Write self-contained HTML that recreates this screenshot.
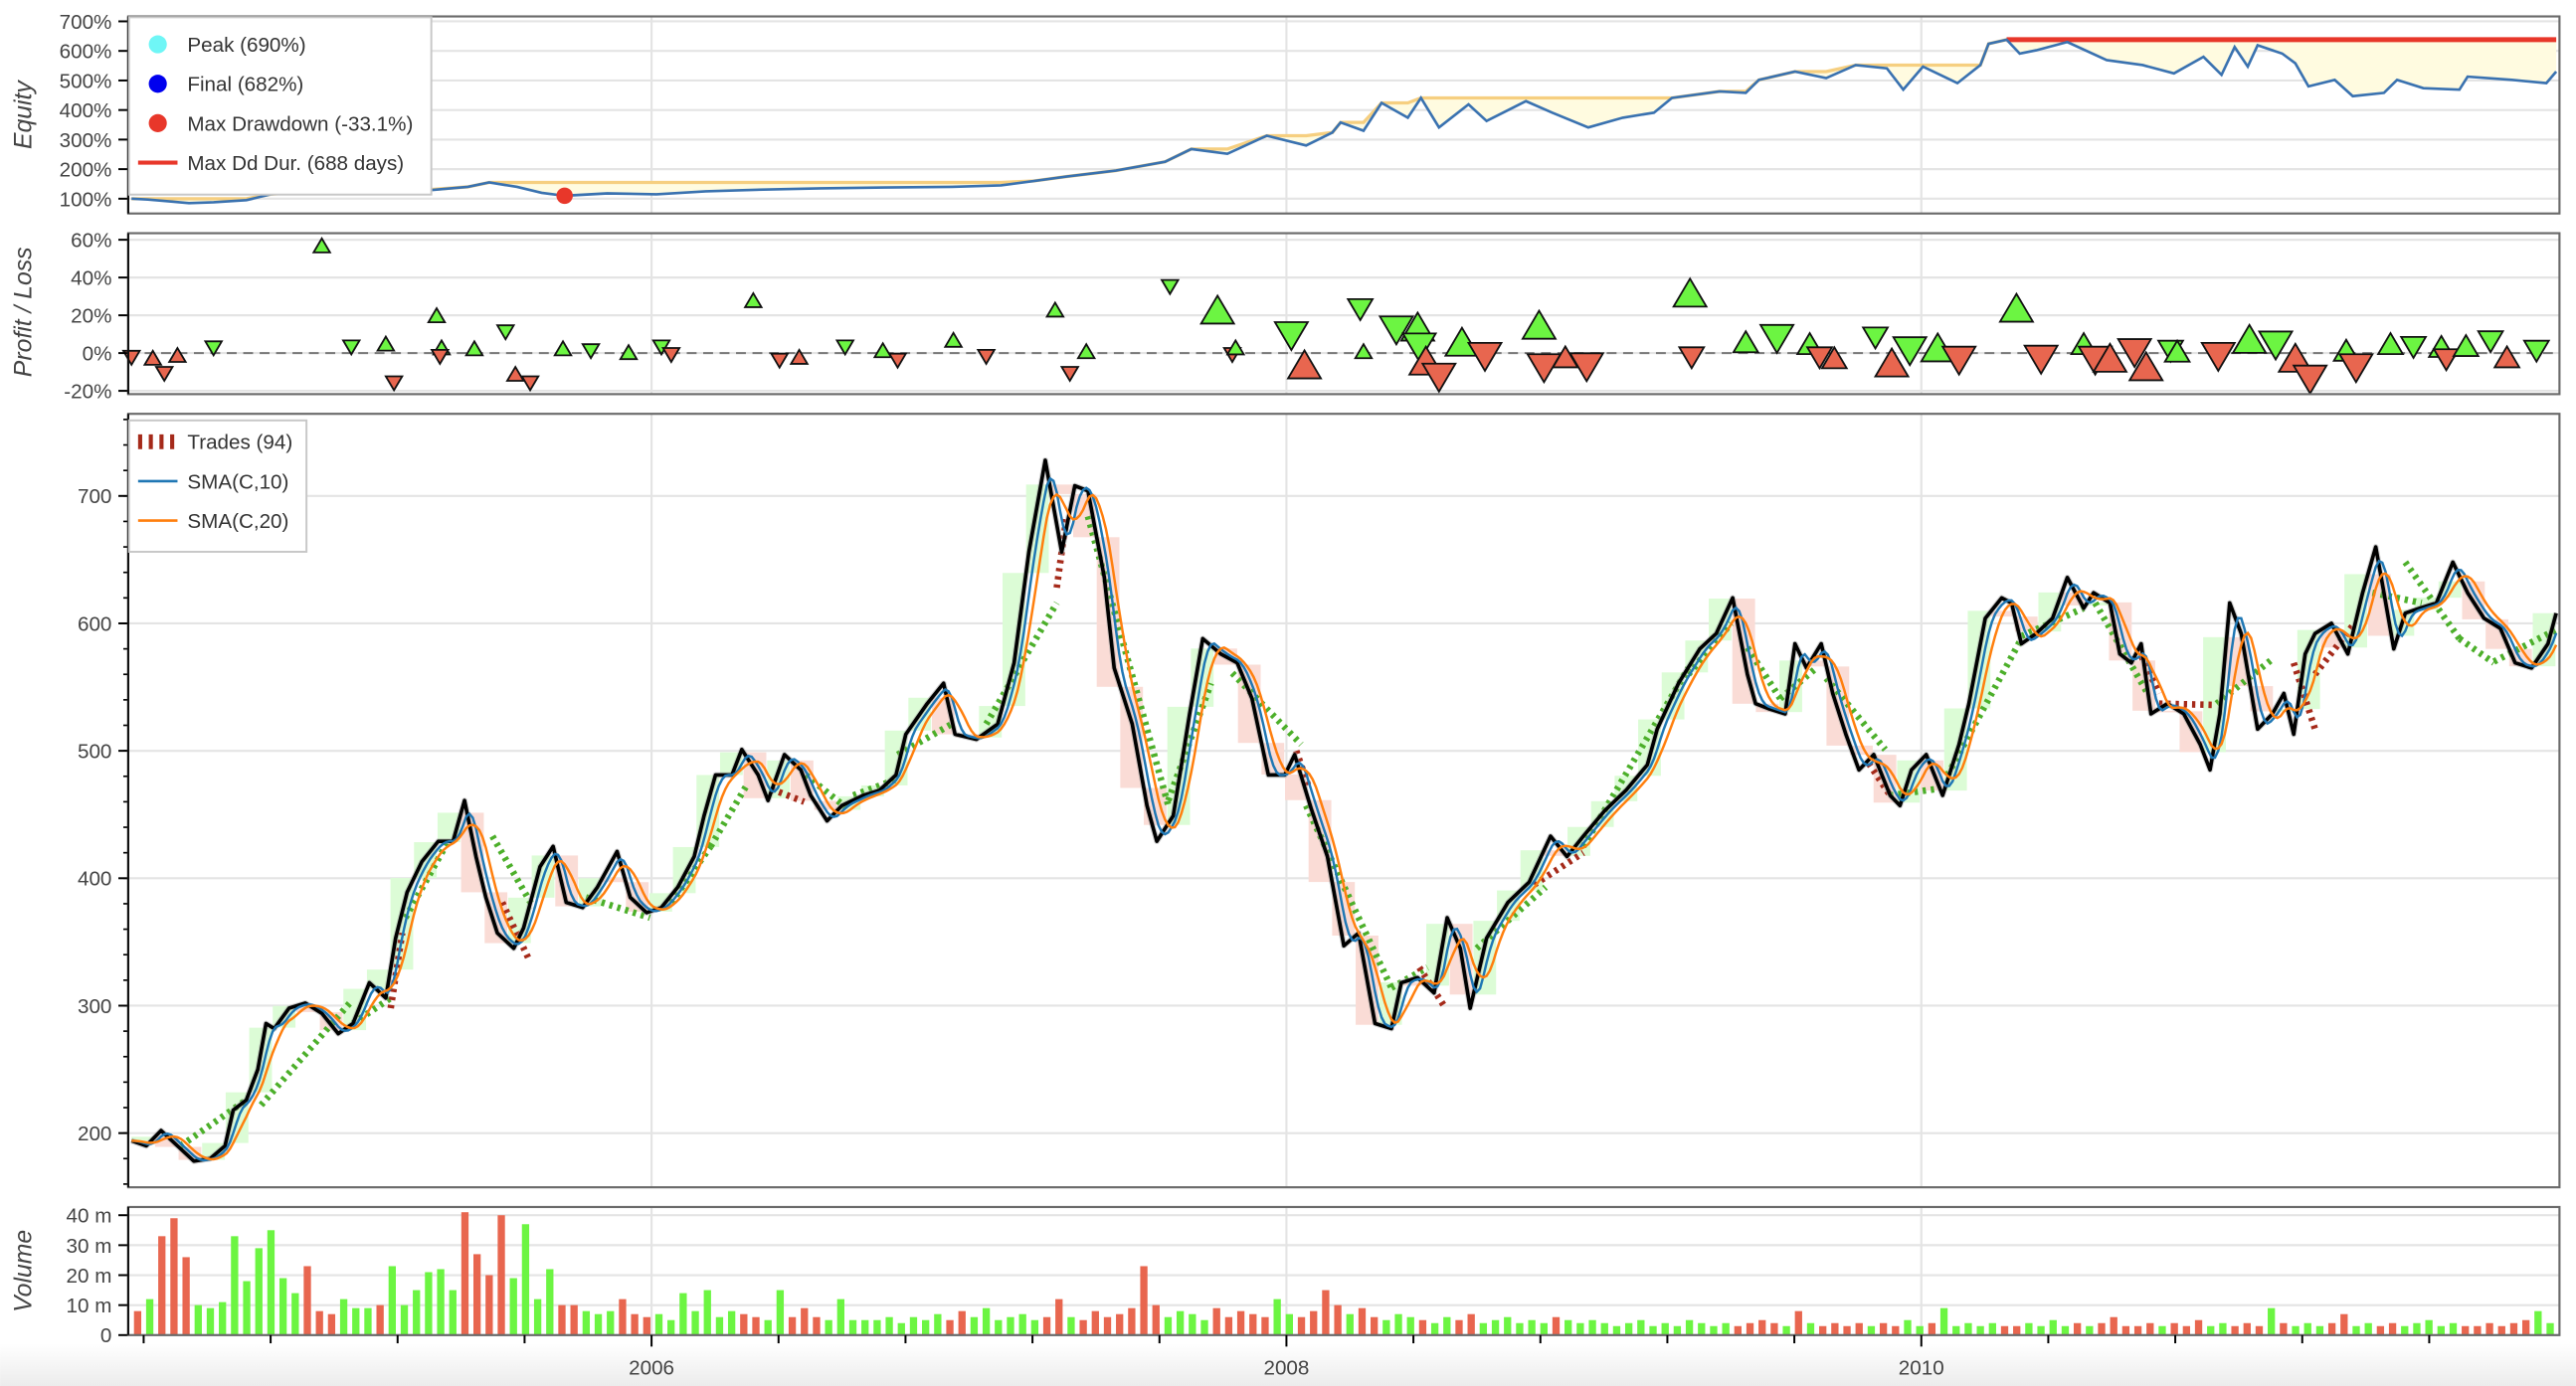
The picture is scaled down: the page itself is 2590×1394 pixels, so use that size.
<!DOCTYPE html>
<html><head><meta charset="utf-8"><style>
html,body{margin:0;padding:0;background:#fff;}
svg{display:block;font-family:"Liberation Sans",sans-serif;}
.tk{font-size:12.5px;fill:#444;}
.ttl{font-size:15px;fill:#444;font-style:italic;}
.lg{font-size:12.5px;fill:#333;}
</style></head><body>
<svg id="chart" width="2590" height="1394" viewBox="0 0 1568 844" xmlns="http://www.w3.org/2000/svg">
<defs><linearGradient id="shade" x1="0" y1="0" x2="0" y2="1"><stop offset="0" stop-color="#fff"/><stop offset="1" stop-color="#ececec"/></linearGradient></defs>
<rect x="0" y="818" width="1568" height="26" fill="url(#shade)"/>
<g id="grid"></g>
<g id="marks"></g>
<g id="axes"></g>
<g id="legends"></g>
</svg>
<script>
// ---- data (time axis in bar-position units 0..1478) ----
const priceT=[0,9,18,28,38,48,57,62,70,77,82,87,96,106,116,126,135,145,155,161,168,177,187,196,203,210,216,223,233,239,249,257,265,275,284,296,304,314,323,333,343,349,356,366,372,382,388,398,408,414,424,433,446,456,466,472,485,495,502,515,528,538,547,557,567,575,583,593,599,610,619,625,635,645,653,664,674,683,693,703,709,719,729,739,748,758,768,774,784,794,802,810,816,826,839,852,865,875,885,898,911,924,930,943,956,966,976,985,990,998,1008,1014,1021,1030,1037,1045,1053,1062,1072,1078,1085,1094,1104,1114,1120,1130,1140,1146,1152,1161,1171,1180,1190,1196,1206,1212,1219,1225,1231,1241,1251,1261,1267,1273,1279,1286,1296,1305,1312,1318,1325,1331,1341,1351,1360,1368,1373,1379,1386,1395,1405,1415,1424,1434,1444,1453,1463,1473,1478];
const priceV=[194,190,202,190,178,180,190,218,226,250,286,282,298,302,294,278,286,318,306,353,389,413,429,429,461,417,385,357,345,361,409,425,381,377,393,421,385,373,377,393,417,449,481,481,501,481,461,497,485,465,445,457,465,469,481,513,537,553,513,509,521,569,656,728,656,708,704,636,565,521,457,429,449,529,588,576,569,541,481,481,497,455,417,347,357,286,282,318,322,310,369,345,298,353,381,397,433,417,433,453,469,489,517,553,580,592,620,560,537,533,529,584,565,584,545,513,485,497,465,457,485,497,465,505,537,604,620,616,584,592,604,636,612,624,616,576,569,584,529,537,529,505,485,529,616,592,517,529,545,513,576,592,600,576,624,660,624,580,608,612,616,648,624,604,596,569,565,584,608];
const eqT=[0,10,25,35,50,70,85,110,150,180,205,218,235,250,264,290,320,350,380,420,460,500,530,550,570,600,630,646,668,692,716,732,737,751,762,778,786,797,815,826,850,866,888,909,928,939,968,984,992,1014,1033,1051,1070,1080,1092,1113,1127,1132,1143,1151,1161,1180,1204,1226,1245,1263,1274,1282,1290,1296,1311,1319,1327,1343,1354,1373,1381,1397,1419,1424,1451,1472,1478];
const eqV=[100,97,90,85,88,95,115,125,130,128,140,155,140,120,110,118,115,125,130,135,138,140,145,160,175,195,225,268,252,313,280,324,358,330,424,374,441,341,419,363,430,391,341,374,391,441,463,458,502,530,508,552,541,469,547,491,552,624,638,591,602,630,569,552,524,580,519,613,547,619,591,558,480,502,447,458,502,474,469,513,502,491,530];
const ddT=264, ddV=110;
const plT=[0,13,20,28,50,116,134,155,160,186,189,188,209,228,234,243,263,280,303,323,329,379,395,407,435,458,467,501,521,563,572,582,633,662,671,673,707,715,749,751,771,784,785,789,797,811,825,858,861,874,887,950,951,984,1003,1023,1029,1038,1063,1073,1084,1101,1114,1149,1164,1190,1197,1206,1221,1228,1243,1247,1272,1291,1307,1319,1328,1350,1356,1377,1391,1408,1411,1423,1438,1448,1466];
const plV=[-2.5,-2.5,-11,-1,2.5,57,3,5,-16,20,3,-2,2.5,11,-11,-16,2.5,1,0.5,3,-1,28,-4,-2,3,1.5,-4,7,-2,23,-11,1,35,23,-1,3,9,-6,23,1,12,14,3,-4,-13,6,-2,15,-8,-2,-7.5,32,-2.5,6,7.5,5,-2.5,-2.5,8,-5,1,3,-4,24,-3.5,5,-4,-2.5,0,-7,1,1,-2,7.5,4,-2.5,-14,1.5,-8,5,3,3.5,-3.5,4,6,-2,1];
const plDir=[-1,1,-1,1,-1,1,-1,1,-1,1,1,-1,1,-1,1,-1,1,-1,1,-1,-1,1,-1,1,-1,1,-1,1,-1,1,-1,1,-1,1,-1,1,-1,1,-1,1,-1,1,-1,1,-1,1,-1,1,-1,1,-1,1,-1,1,-1,1,-1,1,-1,1,-1,1,-1,1,-1,1,-1,1,-1,1,-1,1,-1,1,-1,1,-1,1,-1,1,-1,1,-1,1,-1,1,-1];
const plSize=[1,1,1,1,1,1,1,1,1,1,1,1,1,1,1,1,1,1,1,1,1,1,1,1,1,1,1,1,1,1,1,1,1,2,1,1,2,2,1.5,1,2,2,2,2,2,2,2,2,2,1.5,2,2,1.5,1.5,2,1.5,1.5,1.5,1.5,2,2,2,2,2,2,1.5,2,2,2,2,1.5,1.5,2,2,2,2,2,1.5,2,1.5,1.5,1.5,1.5,1.5,1.5,1.5,1.5];
const trEntryT=[30,79,135,158,167,220,226,277,329,353,390,411,440,467,521,564,583,632,671,710,716,768,785,820,855,885,949,985,1005,1033,1059,1072,1107,1152,1197,1223,1236,1271,1318,1331,1366,1386,1419,1440];
const trEntryP=[190,222,286,298,369,433,381,385,381,425,470,481,465,497,521,628,684,461,561,500,457,314,330,345,395,425,560,581,541,557,490,465,481,590,616,580,537,537,569,560,624,648,588,570];
const trExitT=[70,133,158,165,193,245,242,316,353,375,410,438,467,500,564,570,632,658,713,718,768,790,800,862,885,949,975,1005,1027,1069,1072,1100,1152,1190,1229,1236,1271,1306,1331,1355,1396,1419,1440,1478];
const trExitP=[226,302,306,357,429,377,337,369,425,473,460,453,478,521,616,684,457,553,505,470,314,330,300,393,420,565,600,541,565,501,465,470,588,612,545,545,536,573,517,600,616,588,569,595];
const trDir=[1,1,1,-1,1,-1,1,-1,1,1,1,-1,1,1,1,-1,-1,1,-1,1,-1,1,1,1,-1,1,1,-1,1,-1,1,1,1,1,-1,1,1,1,1,-1,-1,-1,-1,1];
const volM=[8,12,33,39,26,10,9,11,33,18,29,35,19,14,23,8,7,12,9,9,10,23,10,15,21,22,15,41,27,20,40,19,37,12,22,10,10,8,7,8,12,7,6,7,5,14,8,15,6,8,7,6,5,15,6,9,6,5,12,5,5,5,6,4,
6,5,7,5,8,6,9,5,6,7,5,6,12,6,5,8,6,
7,9,23,10,6,8,7,5,9,6,8,7,6,12,7,6,8,15,10,7,
9,6,5,7,6,5,4,6,5,7,4,5,6,4,5,4,6,5,4,5,
4,3,4,5,3,4,3,5,4,3,4,3,4,5,4,3,8,4,3,4,
3,4,3,4,3,5,3,4,9,3,4,3,4,3,3,4,3,5,3,4,
3,4,6,3,3,4,3,4,3,5,3,4,3,4,3,9,4,3,4,3,
4,7,3,4,3,4,3,4,5,3,4,3,3,4,3,4,5,8,4];
const eqTicks=[100,200,300,400,500,600,700];
const plTicks=[-20,0,20,40,60];
const priceTicks=[200,300,400,500,600,700];
const volTicks=[0,10,20,30,40];
const yearTicks=[317,704,1091];
const yearLabels=["2006","2008","2010"];

// ---- scales ----
const X0=78,X1=1558,T0=-2,T1=1480;
const xS=t=>X0+(t-T0)*(X1-X0)/(T1-T0);
const yEq=e=>121-(e-100)*0.18;
const yPL=v=>215-v*1.15;
const yP=p=>690-(p-200)*0.776;
const yV=m=>813-m*1.825;
const PAN={eq:[10,130],pl:[142,240],main:[252,723],vol:[735,813]};
const NS="http://www.w3.org/2000/svg";
function mk(tag,attrs,parent){const e=document.createElementNS(NS,tag);for(const k in attrs)e.setAttribute(k,attrs[k]);parent.appendChild(e);return e;}
const gridG=document.getElementById('grid'),marksG=document.getElementById('marks'),axesG=document.getElementById('axes'),legendsG=document.getElementById('legends');
function priceAt(t){if(t<=priceT[0])return priceV[0];for(let i=1;i<priceT.length;i++){if(t<=priceT[i]){const f=(t-priceT[i-1])/(priceT[i]-priceT[i-1]);return priceV[i-1]+f*(priceV[i]-priceV[i-1]);}}return priceV[priceV.length-1];}

// ---- grid + axes per panel ----
function panel(nm,rng,ticks,yf,fmt,minor){
  const a=rng[0],b=rng[1];
  ticks.forEach(v=>{const y=yf(v);
    const g=mk('line',{x1:X0,x2:X1,y1:y,y2:y,stroke:'#e4e4e4','stroke-width':1.3},gridG);
    
    const tk=mk('line',{x1:X0-6,x2:X0,y1:y,y2:y,stroke:'#000','stroke-width':1.2},axesG);
    
    const tx=mk('text',{x:X0-10,y:y+4.5,'text-anchor':'end',class:'tk'},axesG);tx.textContent=fmt(v);
    
  });
  if(minor){minor.forEach(v=>{const y=yf(v);if(y<a||y>b)return;const m=mk('line',{x1:X0-3,x2:X0,y1:y,y2:y,stroke:'#000','stroke-width':1},axesG);});}
  yearTicks.forEach(t=>{const x=xS(t);const g=mk('line',{x1:x,x2:x,y1:a,y2:b,stroke:'#e4e4e4','stroke-width':1.3},gridG);});
  const r=mk('rect',{x:X0,y:a,width:X1-X0,height:b-a,fill:'none',stroke:'#6a6a6a','stroke-width':1.3},axesG);
  
  const l=mk('line',{x1:X0,x2:X0,y1:a,y2:b,stroke:'#111','stroke-width':1.3},axesG);
  
}
panel('equity',PAN.eq,eqTicks,yEq,v=>v+'%');
panel('pl',PAN.pl,plTicks,yPL,v=>v+'%');
const mnr=[];for(let v=160;v<=760;v+=20)mnr.push(v);
panel('price',PAN.main,priceTicks,yP,v=>String(v),mnr);
panel('volume',PAN.vol,volTicks,yV,v=>v===0?'0':v+' m');

function title(txt,cy,nm){const tx=mk('text',{x:0,y:0,class:'ttl','text-anchor':'middle',transform:'translate(19,'+cy+') rotate(-90)'},axesG);tx.textContent=txt;}
title('Equity',70,'equity-axis-title');title('Profit / Loss',190,'pl-axis-title');title('Volume',774,'volume-axis-title');

// x axis
for(let k=-4;k<=14;k++){const t=317+k*77.4;if(t<0||t>1478)continue;const x=xS(t);const big=k%5===0;
  const m=mk('line',{x1:x,x2:x,y1:813,y2:big?820:818,stroke:'#000','stroke-width':1.2},axesG);}
yearTicks.forEach((t,i)=>{const tx=mk('text',{x:xS(t),y:837,'text-anchor':'middle',class:'tk'},axesG);tx.textContent=yearLabels[i];});

// ---- equity ----
const runMax=[];let mxv=-1e9;eqV.forEach(v=>{mxv=Math.max(mxv,v);runMax.push(mxv);});
let topPath='',botPath='';
eqT.forEach((t,i)=>{topPath+=(i?'L':'M')+xS(t)+','+yEq(runMax[i]);});
for(let i=eqT.length-1;i>=0;i--)botPath+='L'+xS(eqT[i])+','+yEq(eqV[i]);
const ddArea=mk('path',{d:topPath+botPath+'Z',fill:'#fffbe0',stroke:'none'},marksG);
const rml=mk('path',{d:topPath,fill:'none',stroke:'#f6cf80','stroke-width':2},marksG);
const pkI=eqV.indexOf(Math.max(...eqV));
const ddl=mk('line',{x1:xS(eqT[pkI]),x2:xS(eqT[eqT.length-1]),y1:yEq(eqV[pkI]),y2:yEq(eqV[pkI]),stroke:'#e8372a','stroke-width':3},marksG);
const eqp=mk('polyline',{points:eqT.map((t,i)=>xS(t)+','+yEq(eqV[i])).join(' '),fill:'none',stroke:'#3a72b0','stroke-width':1.6},marksG);
const ddm=mk('circle',{cx:xS(ddT),cy:yEq(ddV),r:5,fill:'#e8372a'},marksG);

// ---- P/L ----
const zl=mk('line',{x1:X0,x2:X1,y1:yPL(0),y2:yPL(0),stroke:'#777','stroke-width':1.2,'stroke-dasharray':'6 4'},marksG);
plT.forEach((t,i)=>{const cx=xS(t),cy=yPL(plV[i]),s=5*plSize[i],h=s*1.7;
  const win=plV[i]>0;const up=plDir[i]>0;
  const pts=up?(cx-s)+','+(cy+h/2)+' '+(cx+s)+','+(cy+h/2)+' '+cx+','+(cy-h/2):(cx-s)+','+(cy-h/2)+' '+(cx+s)+','+(cy-h/2)+' '+cx+','+(cy+h/2);
  const p=mk('polygon',{points:pts,fill:win?'#6cf542':'#e8664f',stroke:'#111','stroke-width':1.1},marksG);
  });

// ---- price panel: monthly boxes ----
const BW=14.35;
for(let t=0;t<1478;t+=BW){const o=priceAt(t),c=priceAt(Math.min(t+BW,1478));const lo=Math.min(o,c),hi=Math.max(o,c);
  const r=mk('rect',{x:xS(t),y:yP(hi),width:BW*(X1-X0)/(T1-T0)-0.5,height:Math.max(1,yP(lo)-yP(hi)),fill:c>=o?'#dcfcd6':'#fadcd6',stroke:'none'},marksG);
  }
// trades
trEntryT.forEach((t,i)=>{const win=(trExitP[i]-trEntryP[i])*trDir[i]>0;
  const l=mk('line',{x1:xS(t),y1:yP(trEntryP[i]),x2:xS(trExitT[i]),y2:yP(trExitP[i]),stroke:win?'#4caf2a':'#a52a1a','stroke-width':4,'stroke-dasharray':'2 3'},marksG);
  });
// price
const pp=priceT.map((t,i)=>xS(t)+','+yP(priceV[i])).join(' ');
const wk=mk('polyline',{points:pp,fill:'none',stroke:'#999','stroke-width':3.5,'stroke-linejoin':'round',opacity:0.45},marksG);
const priceLine=mk('polyline',{points:pp,fill:'none',stroke:'#000','stroke-width':2.2,'stroke-linejoin':'round'},marksG);
function sma(w){const out=[];for(let t=0;t<=1478;t+=2){let s=0,n=0;for(let k=t-w;k<=t;k++){s+=priceAt(Math.max(0,k));n++;}out.push(xS(t)+','+yP(s/n));}return out.join(' ');}
const s1=mk('polyline',{points:sma(7),fill:'none',stroke:'#1f77b4','stroke-width':1.5},marksG);
const s2=mk('polyline',{points:sma(14),fill:'none',stroke:'#ff7f0e','stroke-width':1.5},marksG);

// ---- volume ----
const VW=1478/volM.length;
volM.forEach((v,i)=>{const t=i*VW;const up=priceAt(t+VW)>=priceAt(t);
  const r=mk('rect',{x:xS(t)+1.5,y:yV(v),width:VW*(X1-X0)/(T1-T0)*0.6,height:yV(0)-yV(v),fill:up?'#6cf542':'#e8664f'},marksG);
  });

// ---- legends ----
const lg1=mk('g',{},legendsG);
mk('rect',{x:X0+0.5,y:10.5,width:184,height:108,fill:'#fff',stroke:'#c8c8c8','stroke-width':1.2},lg1);
[['Peak (690%)','#6ff6f6','c',27],['Final (682%)','#0000ee','c',51],['Max Drawdown (-33.1%)','#e8372a','c',75],['Max Dd Dur. (688 days)','#e8372a','l',99]].forEach(a=>{
  if(a[2]==='c')mk('circle',{cx:96,cy:a[3],r:5.5,fill:a[1]},lg1);else mk('line',{x1:84,x2:108,y1:a[3],y2:a[3],stroke:a[1],'stroke-width':2.5},lg1);
  const tx=mk('text',{x:114,y:a[3]+4.5,class:'lg'},lg1);tx.textContent=a[0];});
const lg2=mk('g',{},legendsG);
mk('rect',{x:X0+0.5,y:256,width:108,height:80,fill:'#fff',stroke:'#c8c8c8','stroke-width':1.2},lg2);
mk('line',{x1:84,x2:108,y1:269,y2:269,stroke:'#a52a1a','stroke-width':9,'stroke-dasharray':'2.5 4'},lg2);
mk('line',{x1:84,x2:108,y1:293,y2:293,stroke:'#1f77b4','stroke-width':1.6},lg2);
mk('line',{x1:84,x2:108,y1:317,y2:317,stroke:'#ff7f0e','stroke-width':1.6},lg2);
[['Trades (94)',269],['SMA(C,10)',293],['SMA(C,20)',317]].forEach(a=>{const tx=mk('text',{x:114,y:a[1]+4.5,class:'lg'},lg2);tx.textContent=a[0];});
</script>
</body></html>
